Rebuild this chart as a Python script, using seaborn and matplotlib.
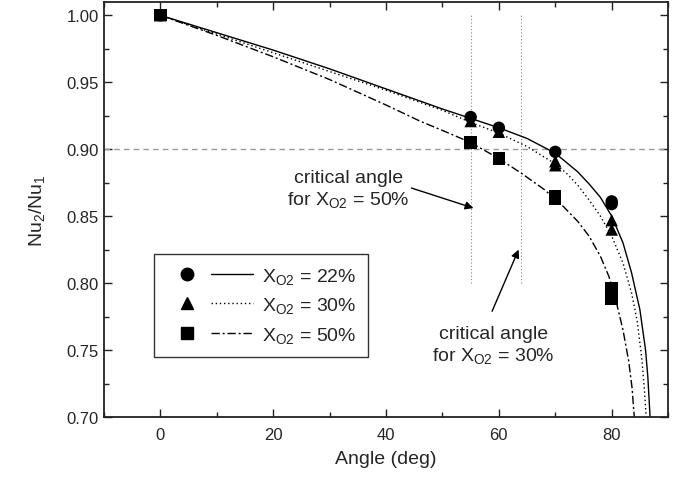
import numpy as np
import pandas as pd
import matplotlib
matplotlib.use("Agg")
import matplotlib.pyplot as plt
from matplotlib.lines import Line2D
from matplotlib.legend_handler import HandlerTuple
from matplotlib.ticker import MultipleLocator, FormatStrFormatter
import seaborn as sns

ANG_22 = [0, 55, 60, 70, 80, 80]
NU_22 = [1.000, 0.924, 0.916, 0.898, 0.861, 0.859]
ANG_30 = [0, 55, 60, 70, 70, 80, 80]
NU_30 = [1.000, 0.921, 0.913, 0.891, 0.888, 0.847, 0.840]
ANG_50 = [0, 55, 60, 70, 70, 80, 80]
NU_50 = [1.000, 0.905, 0.893, 0.865, 0.863, 0.796, 0.788]

# --- fitted curves ---
FIT_ANG_22 = [0, 10, 20, 30, 40, 50, 55, 60, 65, 70, 72, 74, 76, 78, 80, 82, 83.5, 85, 86, 86.4, 86.8]
FIT_NU_22 = [1.000, 0.987, 0.974, 0.960, 0.945, 0.930, 0.923, 0.916, 0.908, 0.897, 0.890,
             0.883, 0.874, 0.864, 0.850, 0.830, 0.808, 0.780, 0.750, 0.730, 0.700]
FIT_ANG_30 = [0, 10, 20, 30, 40, 50, 55, 60, 65, 70, 72, 74, 76, 78, 80, 82, 83.5, 84.5, 85.3, 85.8, 86.1]
FIT_NU_30 = [1.000, 0.986, 0.972, 0.958, 0.944, 0.929, 0.920, 0.912, 0.902, 0.889, 0.882,
             0.873, 0.862, 0.850, 0.835, 0.815, 0.793, 0.772, 0.745, 0.720, 0.700]
FIT_ANG_50 = [0, 10, 20, 30, 40, 46, 50, 55, 60, 64, 68, 71, 74, 76, 78, 79.5, 80.8, 82, 83, 83.6, 84.0]
FIT_NU_50 = [1.000, 0.985, 0.969, 0.952, 0.933, 0.921, 0.914, 0.905, 0.893, 0.882, 0.870,
             0.859, 0.846, 0.835, 0.820, 0.805, 0.786, 0.765, 0.742, 0.722, 0.700]

LABELS = ["22%", "30%", "50%"]
MARKERS = {"22%": "o", "30%": "^", "50%": "s"}
DASHES = {"22%": "", "30%": (1, 2), "50%": (6, 2, 1.5, 2)}

CRIT_ANGLES = [55, 64]
THRESHOLD = 0.90

sns.set_style("ticks")
plt.rcParams["font.family"] = ["Liberation Sans", "DejaVu Sans"]
plt.rcParams["mathtext.fontset"] = "custom"
plt.rcParams["mathtext.rm"] = "Liberation Sans"
plt.rcParams["mathtext.it"] = "Liberation Sans:italic"

pts = pd.DataFrame({
    "angle": ANG_22 + ANG_30 + ANG_50,
    "nu": NU_22 + NU_30 + NU_50,
    "xo2": ["22%"] * len(ANG_22) + ["30%"] * len(ANG_30) + ["50%"] * len(ANG_50),
})
fits = pd.DataFrame({
    "angle": FIT_ANG_22 + FIT_ANG_30 + FIT_ANG_50,
    "nu": FIT_NU_22 + FIT_NU_30 + FIT_NU_50,
    "xo2": ["22%"] * len(FIT_ANG_22) + ["30%"] * len(FIT_ANG_30) + ["50%"] * len(FIT_ANG_50),
})

fig = plt.figure(figsize=(6.79, 4.81), dpi=100)
ax = fig.add_axes([0.153, 0.131, 0.831, 0.863])

# reference lines
ax.axhline(THRESHOLD, color="#999999", lw=1, dashes=(4, 3), zorder=1)
for a in CRIT_ANGLES:
    ax.plot([a, a], [0.80, 1.0], color="#888888", lw=0.8, dashes=(1, 2), zorder=1)

sns.lineplot(data=fits, x="angle", y="nu", style="xo2", dashes=DASHES,
             color="black", lw=1, sort=False, estimator=None, legend=False, ax=ax)
sns.scatterplot(data=pts, x="angle", y="nu", style="xo2", markers=MARKERS,
                color="black", s=80, edgecolor="none", legend=False, ax=ax, zorder=3)

# annotations
ax.text(33.3, 0.870, "critical angle\nfor X$_{\\mathrm{O2}}$ = 50%", fontsize=14,
        ha="center", va="center", multialignment="center")
ax.annotate("", xy=(55.5, 0.856), xytext=(44.5, 0.871),
            arrowprops=dict(arrowstyle="-|>", color="black", lw=1, mutation_scale=12,
                            shrinkA=0, shrinkB=0))
ax.text(59.0, 0.754, "critical angle\nfor X$_{\\mathrm{O2}}$ = 30%", fontsize=14,
        ha="center", va="center", multialignment="center")
ax.annotate("", xy=(63.5, 0.825), xytext=(58.8, 0.779),
            arrowprops=dict(arrowstyle="-|>", color="black", lw=1, mutation_scale=12,
                            shrinkA=0, shrinkB=0))

ax.set_xlim(-10, 90)
ax.set_ylim(0.70, 1.01)
ax.xaxis.set_major_locator(MultipleLocator(20))
ax.xaxis.set_minor_locator(MultipleLocator(10))
ax.yaxis.set_major_locator(MultipleLocator(0.05))
ax.yaxis.set_minor_locator(MultipleLocator(0.025))
ax.yaxis.set_major_formatter(FormatStrFormatter("%.2f"))
ax.tick_params(which="both", direction="in", top=True, right=True, labelsize=12,
               width=1, color="#222222")
ax.tick_params(axis="x", which="major", pad=7)
ax.tick_params(which="major", length=6)
ax.tick_params(which="minor", length=3.5)
for sp in ax.spines.values():
    sp.set_linewidth(1.3)
    sp.set_color("#222222")

ax.set_xlabel("Angle (deg)", fontsize=14, labelpad=6)
ax.set_ylabel("Nu$_2$/Nu$_1$", fontsize=14, labelpad=14)

# legend: marker and line sit side by side
handles = []
for lab in LABELS:
    m = Line2D([], [], marker=MARKERS[lab], color="black", ls="none", markersize=9)
    if DASHES[lab]:
        l = Line2D([], [], color="black", lw=1, dashes=DASHES[lab])
    else:
        l = Line2D([], [], color="black", lw=1)
    handles.append((m, l))
ax.legend(handles, [f"X$_{{\\mathrm{{O2}}}}$ = {lab}" for lab in LABELS],
          handler_map={tuple: HandlerTuple(ndivide=None, pad=0.2)},
          loc="upper left", bbox_to_anchor=(0.0887, 0.393), borderaxespad=0,
          fontsize=14, handlelength=4.5, handletextpad=0.45, labelspacing=0.5,
          borderpad=0.6, fancybox=False, framealpha=1, edgecolor="#333333")

fig.savefig("out.png", dpi=100)
